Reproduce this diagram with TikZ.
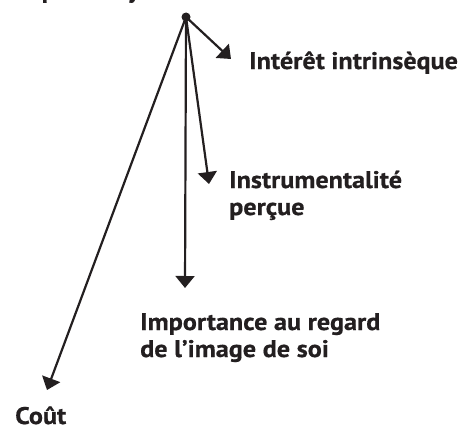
\documentclass[tikz,border=0pt]{standalone}
\usepackage{fontspec}
\setmainfont{PT Sans}[FakeStretch=1.09,BoldFeatures={FakeBold=0.6}]
\usetikzlibrary{arrows.meta}
\definecolor{ink}{HTML}{231F20}
\begin{document}
\begin{tikzpicture}[x=1pt,y=-1pt,
  lab/.style={anchor=base west,inner sep=0pt,text=ink,font=\fontsize{24}{28}\selectfont\bfseries},
  conn/.style={draw=ink,line width=2.2pt,-{Triangle[length=12pt,width=19pt]}}]
\useasboundingbox (0,0) rectangle (462,428);
\begin{scope}
\clip (0,0) rectangle (462,428);
\node[lab] (head) at (14,-2) {Expectancy};
\end{scope}
\node[circle,fill=ink,minimum size=9pt,inner sep=0pt] (hub) at (186,17) {};
\coordinate (t1) at (231,59);
\coordinate (t2) at (209,184);
\coordinate (t3) at (185,288);
\coordinate (t4) at (47,390);
\draw[conn] (hub.center) -- (t1);
\draw[conn] (hub.center) -- (t2);
\draw[conn] (hub.center) -- (t3);
\draw[conn] (hub.center) -- (t4);
\node[lab] (interet) at (249,69) {Intérêt intrinsèque};
\node[lab] (instr1) at (229,188) {Instrumentalité};
\node[lab] (instr2) at (229,215) {perçue};
\node[lab] (imp1) at (140,330) {Importance au regard};
\node[lab] (imp2) at (140,357) {de l’image de soi};
\node[lab] (cout) at (15,424) {Coût};
\end{tikzpicture}
\end{document}
